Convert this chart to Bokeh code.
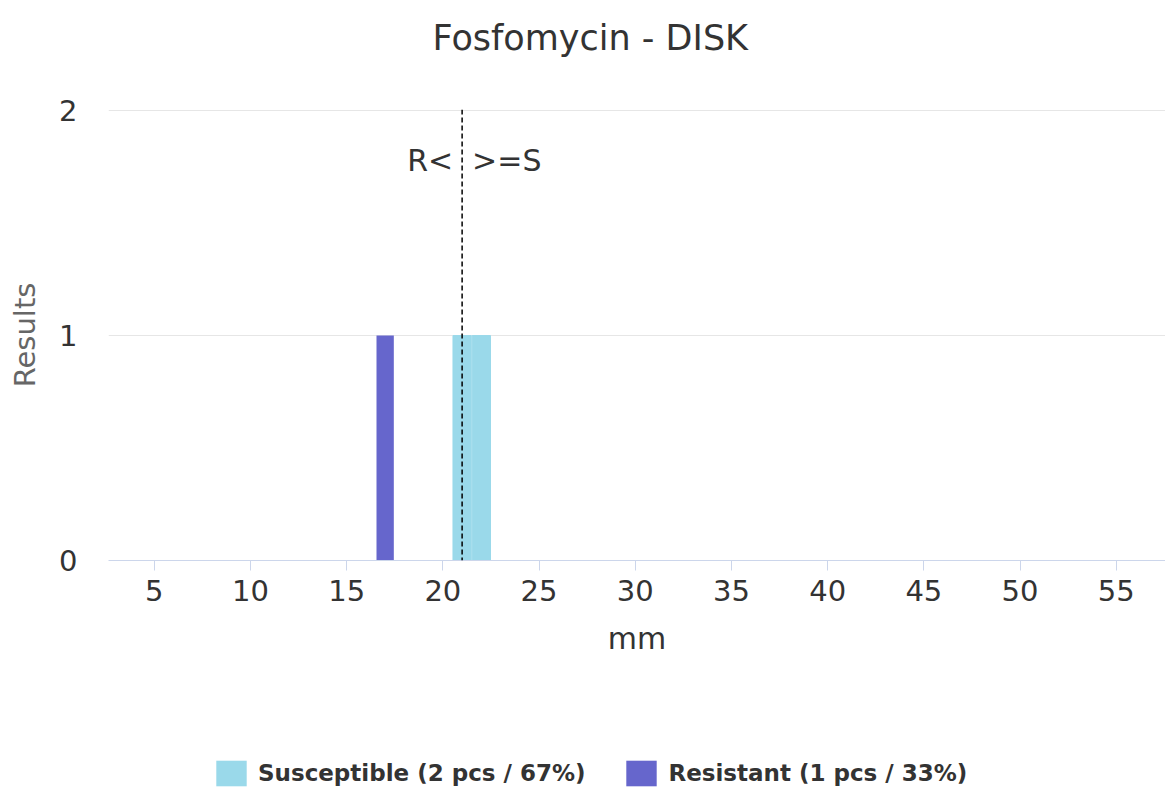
from bokeh.plotting import figure
from bokeh.models import Range1d, FixedTicker, Span, Legend, LegendItem
from bokeh.layouts import column
from bokeh.core.properties import value
from bokeh.embed import file_html
from bokeh.resources import INLINE

# ---- data ----
title_text = "Fosfomycin - DISK"
sus_x = [21, 22]
sus_y = [1, 1]
res_x = [17]
res_y = [1]
breakpoint_mm = 21
x_ticks = [5, 10, 15, 20, 25, 30, 35, 40, 45, 50, 55]
y_ticks = [0, 1, 2]
x_label = "mm"
y_label = "Results"
sus_color = "#9ad9ea"
res_color = "#6666cc"

total = sum(sus_y) + sum(res_y)
sus_label = f"Susceptible ({sum(sus_y)} pcs / {round(100*sum(sus_y)/total)}%)"
res_label = f"Resistant ({sum(res_y)} pcs / {round(100*sum(res_y)/total)}%)"

FONT = "DejaVu Sans"
W = 1165

def strip(height):
    f = figure(width=W, height=height, output_backend="svg", toolbar_location=None,
               x_range=Range1d(0, 1), y_range=Range1d(0, 1),
               x_axis_type=None, y_axis_type=None,
               min_border_left=0, min_border_right=0, min_border_top=0, min_border_bottom=0)
    f.outline_line_color = None
    f.xgrid.grid_line_color = None
    f.ygrid.grid_line_color = None
    return f

# title strip
p0 = strip(80)
p0.title.text = title_text
p0.title.text_font = FONT
p0.title.text_font_size = "35px"
p0.title.text_font_style = "normal"
p0.title.text_color = "#333333"
p0.title.align = "left"
p0.title.offset = 324
p0.title.vertical_align = "top"
p0.title.standoff = 34

p = figure(width=W, height=620, output_backend="svg", toolbar_location=None,
           x_range=Range1d(2.62, 57.56), y_range=Range1d(0, 2.005),
           min_border_left=108, min_border_right=0, min_border_top=29, min_border_bottom=140)
p.outline_line_color = None

r_sus = p.vbar(x=sus_x, top=sus_y, bottom=0, width=0.95, fill_color=sus_color,
               line_color=sus_color, line_width=1)
r_res = p.vbar(x=res_x, top=res_y, bottom=0, width=0.9, fill_color=res_color,
               line_color=None)

span = Span(location=breakpoint_mm, dimension="height", line_color="black",
            line_width=1.5, line_dash="5 3")
p.add_layout(span)

p.text(x=[breakpoint_mm], y=[1.778], text=["R<"], x_offset=-9, text_align="right",
       text_baseline="middle", text_font=value(FONT), text_font_size="30px", text_color="#333333")
p.text(x=[breakpoint_mm], y=[1.778], text=[">=S"], x_offset=10, text_align="left",
       text_baseline="middle", text_font=value(FONT), text_font_size="30px", text_color="#333333")

# axes
p.xaxis.ticker = FixedTicker(ticks=x_ticks)
p.yaxis.ticker = FixedTicker(ticks=y_ticks)
p.xgrid.grid_line_color = None
p.ygrid.grid_line_color = "#e6e6e6"
p.ygrid.grid_line_width = 1

p.xaxis.axis_line_color = "#ccd6eb"
p.xaxis.major_tick_line_color = "#ccd6eb"
p.xaxis.major_tick_out = 10
p.xaxis.major_tick_in = 0
p.xaxis.minor_tick_line_color = None
p.xaxis.major_label_standoff = 9
p.xaxis.major_label_text_font = FONT
p.xaxis.major_label_text_font_size = "29px"
p.xaxis.major_label_text_color = "#333333"
p.xaxis.axis_label = x_label
p.xaxis.axis_label_text_font = FONT
p.xaxis.axis_label_text_font_size = "30px"
p.xaxis.axis_label_text_font_style = "normal"
p.xaxis.axis_label_text_color = "#333333"
p.xaxis.axis_label_standoff = 17

p.yaxis.axis_line_color = None
p.yaxis.major_tick_line_color = None
p.yaxis.minor_tick_line_color = None
p.yaxis.major_tick_out = 0
p.yaxis.major_tick_in = 0
p.yaxis.major_label_standoff = 31
p.yaxis.major_label_text_font = FONT
p.yaxis.major_label_text_font_size = "29px"
p.yaxis.major_label_text_color = "#333333"
p.yaxis.axis_label = y_label
p.yaxis.axis_label_text_font = FONT
p.yaxis.axis_label_text_font_size = "29px"
p.yaxis.axis_label_text_font_style = "normal"
p.yaxis.axis_label_text_color = "#666666"
p.yaxis.axis_label_standoff = 14

# legend strip below the chart
p2 = strip(87)
# zero-height proxy glyphs, only used for the legend swatches
l_sus = p2.vbar(x=[0.5], top=[0], bottom=0, width=0.01, fill_color=sus_color, line_color=None)
l_res = p2.vbar(x=[0.5], top=[0], bottom=0, width=0.01, fill_color=res_color, line_color=None)

legend = Legend(items=[LegendItem(label=sus_label, renderers=[l_sus]),
                       LegendItem(label=res_label, renderers=[l_res])],
                orientation="horizontal", location=(104, -2),
                padding=0, margin=0, spacing=37,
                glyph_width=38, glyph_height=32, label_standoff=8,
                label_text_font=FONT, label_text_font_size="23px",
                label_text_font_style="bold", label_text_color="#333333",
                border_line_color=None, background_fill_alpha=0)
p2.add_layout(legend, "center")

layout = column(p0, p, p2, spacing=0)
open("out.html", "w").write(file_html(layout, INLINE))
